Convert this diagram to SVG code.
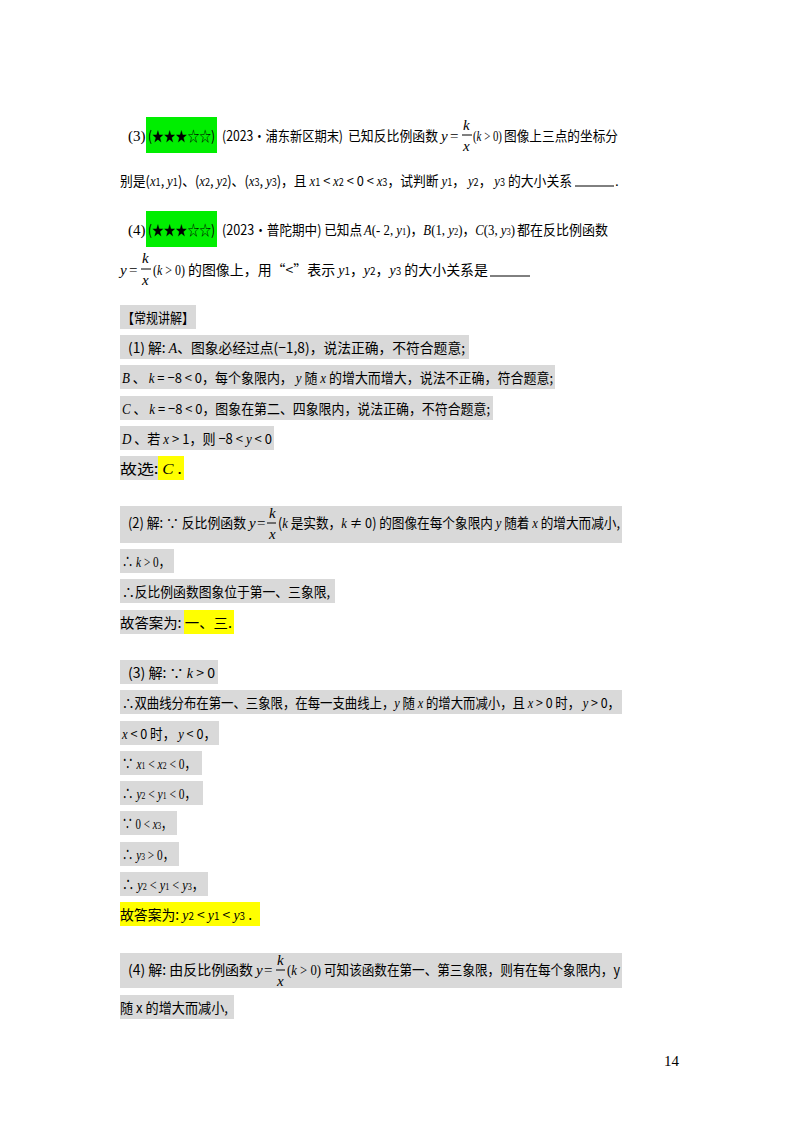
<svg xmlns="http://www.w3.org/2000/svg" width="800" height="1132" viewBox="0 0 800 1132">
<style>
text{font-family:"Liberation Serif","Noto Sans CJK SC",serif;font-size:15px;fill:#000}
.c{font-family:"Noto Sans CJK SC","Liberation Sans",sans-serif;font-size:14px}
.m{font-style:italic;font-family:"Liberation Serif",serif}
.g{fill:#d9d9d9}.y{fill:#ffff00}.gr{fill:#00ee00}
.s{font-size:10px}
</style>
<rect width="800" height="1132" fill="#fff"/>
<g id="q3">
<rect class="gr" x="146" y="117" width="71" height="36"/>
<text x="128" y="141">(3)</text>
<text x="148" y="141" class="c" textLength="67" lengthAdjust="spacingAndGlyphs">(★★★☆☆)</text>
<text x="222" y="141" class="c" textLength="121" lengthAdjust="spacingAndGlyphs">(2023•浦东新区期末)</text>
<text x="348" y="141" class="c" textLength="90" lengthAdjust="spacingAndGlyphs">已知反比例函数</text>
<text x="441" y="141" class="m">y</text><text x="450" y="141">=</text>
<text x="463" y="130" class="m">k</text><line x1="462" y1="135" x2="472" y2="135" stroke="#000"/><text x="463" y="151" class="m">x</text>
<text x="473" y="141" textLength="29" lengthAdjust="spacingAndGlyphs">(<tspan class="m">k</tspan> &gt; 0)</text>
<text x="504" y="141" class="c" textLength="114" lengthAdjust="spacingAndGlyphs">图像上三点的坐标分</text>
<text x="120" y="186" class="c" textLength="452" lengthAdjust="spacingAndGlyphs">别是(<tspan class="m">x</tspan><tspan class="s">1</tspan>, <tspan class="m">y</tspan><tspan class="s">1</tspan>)、(<tspan class="m">x</tspan><tspan class="s">2</tspan>, <tspan class="m">y</tspan><tspan class="s">2</tspan>)、(<tspan class="m">x</tspan><tspan class="s">3</tspan>, <tspan class="m">y</tspan><tspan class="s">3</tspan>)，且 <tspan class="m">x</tspan><tspan class="s">1</tspan> &lt; <tspan class="m">x</tspan><tspan class="s">2</tspan> &lt; 0 &lt; <tspan class="m">x</tspan><tspan class="s">3</tspan>，试判断 <tspan class="m">y</tspan><tspan class="s">1</tspan>， <tspan class="m">y</tspan><tspan class="s">2</tspan>， <tspan class="m">y</tspan><tspan class="s">3</tspan> 的大小关系</text>
<line x1="575" y1="186" x2="614" y2="186" stroke="#000"/><text x="615" y="186">.</text>
</g>
<g id="q4">
<rect class="gr" x="146" y="211" width="71" height="36"/>
<text x="128" y="235">(4)</text>
<text x="148" y="235" class="c" textLength="67" lengthAdjust="spacingAndGlyphs">(★★★☆☆)</text>
<text x="222" y="235" class="c" textLength="140" lengthAdjust="spacingAndGlyphs">(2023•普陀期中) 已知点</text>
<text x="364" y="235" textLength="151" lengthAdjust="spacingAndGlyphs"><tspan class="m">A</tspan>(- 2, <tspan class="m">y</tspan><tspan class="s">1</tspan>)，<tspan class="m">B</tspan>(1, <tspan class="m">y</tspan><tspan class="s">2</tspan>)，<tspan class="m">C</tspan>(3, <tspan class="m">y</tspan><tspan class="s">3</tspan>)</text>
<text x="517" y="235" class="c" textLength="91" lengthAdjust="spacingAndGlyphs">都在反比例函数</text>
<text x="120" y="275" class="m">y</text><text x="129" y="275">=</text>
<text x="142" y="263" class="m">k</text><line x1="141" y1="269" x2="151" y2="269" stroke="#000"/><text x="142" y="285" class="m">x</text>
<text x="153" y="275" textLength="32" lengthAdjust="spacingAndGlyphs">(<tspan class="m">k</tspan> &gt; 0)</text>
<text x="188" y="275" class="c" textLength="300" lengthAdjust="spacingAndGlyphs">的图像上，用“&lt;”表示 <tspan class="m">y</tspan><tspan class="s">1</tspan>，<tspan class="m">y</tspan><tspan class="s">2</tspan>，<tspan class="m">y</tspan><tspan class="s">3</tspan> 的大小关系是</text>
<line x1="490" y1="276" x2="530" y2="276" stroke="#000"/>
</g>
<g id="sol1">
<rect class="g" x="120" y="305" width="76" height="24"/>
<text x="122" y="323" class="c" textLength="72" lengthAdjust="spacingAndGlyphs">【常规讲解】</text>
<rect class="g" x="120" y="335" width="349" height="24"/>
<text x="128" y="353" class="c" textLength="337" lengthAdjust="spacingAndGlyphs">(1) 解: <tspan class="m">A</tspan>、图象必经过点(−1,8)，说法正确，不符合题意;</text>
<rect class="g" x="120" y="365" width="435" height="24"/>
<text x="122" y="383" class="c" textLength="431" lengthAdjust="spacingAndGlyphs"><tspan class="m">B</tspan> 、 <tspan class="m">k</tspan> = −8 &lt; 0，每个象限内， <tspan class="m">y</tspan> 随 <tspan class="m">x</tspan> 的增大而增大，说法不正确，符合题意;</text>
<rect class="g" x="120" y="396" width="373" height="24"/>
<text x="122" y="414" class="c" textLength="368" lengthAdjust="spacingAndGlyphs"><tspan class="m">C</tspan> 、 <tspan class="m">k</tspan> = −8 &lt; 0，图象在第二、四象限内，说法正确，不符合题意;</text>
<rect class="g" x="120" y="426" width="154" height="24"/>
<text x="122" y="444" class="c" textLength="150" lengthAdjust="spacingAndGlyphs"><tspan class="m">D</tspan> 、若 <tspan class="m">x</tspan> &gt; 1，则 −8 &lt; <tspan class="m">y</tspan> &lt; 0</text>
<rect class="g" x="120" y="456" width="38" height="24"/><rect class="y" x="158" y="456" width="26" height="24"/>
<text x="120" y="474" class="c" textLength="62" lengthAdjust="spacingAndGlyphs">故选: <tspan class="m">C</tspan> .</text>
</g>
<g id="sol2">
<rect class="g" x="120" y="506" width="502" height="37"/>
<text x="128" y="528" class="c" textLength="118" lengthAdjust="spacingAndGlyphs">(2) 解: ∵ 反比例函数</text>
<text x="249" y="528" class="m">y</text><text x="257" y="528">=</text>
<text x="269" y="518" class="m">k</text><line x1="267" y1="523" x2="276" y2="523" stroke="#000"/><text x="269" y="539" class="m">x</text>
<text x="278" y="528" class="c" textLength="342" lengthAdjust="spacingAndGlyphs">(<tspan class="m">k</tspan> 是实数，<tspan class="m">k</tspan> ≠ 0) 的图像在每个象限内 <tspan class="m">y</tspan> 随着 <tspan class="m">x</tspan> 的增大而减小,</text>
<rect class="g" x="120" y="549" width="54" height="24"/>
<text x="122" y="567" textLength="48" lengthAdjust="spacingAndGlyphs">∴ <tspan class="m">k</tspan> &gt; 0，</text>
<rect class="g" x="120" y="579" width="215" height="24"/>
<text x="122" y="597" class="c" textLength="208" lengthAdjust="spacingAndGlyphs">∴反比例函数图象位于第一、三象限,</text>
<rect class="g" x="120" y="610" width="64" height="24"/><rect class="y" x="184" y="610" width="50" height="24"/>
<text x="120" y="628" class="c" textLength="112" lengthAdjust="spacingAndGlyphs">故答案为: 一、三.</text>
</g>
<g id="sol3">
<rect class="g" x="120" y="660" width="98" height="24"/>
<text x="128" y="678" class="c" textLength="87" lengthAdjust="spacingAndGlyphs">(3) 解: ∵ <tspan class="m">k</tspan> &gt; 0</text>
<rect class="g" x="120" y="690" width="502" height="24"/>
<text x="122" y="708" class="c" textLength="498" lengthAdjust="spacingAndGlyphs">∴双曲线分布在第一、三象限，在每一支曲线上，<tspan class="m">y</tspan> 随 <tspan class="m">x</tspan> 的增大而减小，且 <tspan class="m">x</tspan> &gt; 0 时， <tspan class="m">y</tspan> &gt; 0，</text>
<rect class="g" x="120" y="721" width="99" height="24"/>
<text x="122" y="739" class="c" textLength="94" lengthAdjust="spacingAndGlyphs"><tspan class="m">x</tspan> &lt; 0 时， <tspan class="m">y</tspan> &lt; 0，</text>
<rect class="g" x="120" y="751" width="82" height="24"/>
<text x="122" y="769" textLength="74" lengthAdjust="spacingAndGlyphs">∵ <tspan class="m">x</tspan><tspan class="s">1</tspan> &lt; <tspan class="m">x</tspan><tspan class="s">2</tspan> &lt; 0，</text>
<rect class="g" x="120" y="781" width="83" height="24"/>
<text x="122" y="799" textLength="74" lengthAdjust="spacingAndGlyphs">∴ <tspan class="m">y</tspan><tspan class="s">2</tspan> &lt; <tspan class="m">y</tspan><tspan class="s">1</tspan> &lt; 0，</text>
<rect class="g" x="120" y="811" width="57" height="24"/>
<text x="122" y="829" textLength="50" lengthAdjust="spacingAndGlyphs">∵ 0 &lt; <tspan class="m">x</tspan><tspan class="s">3</tspan>，</text>
<rect class="g" x="120" y="842" width="59" height="24"/>
<text x="122" y="860" textLength="52" lengthAdjust="spacingAndGlyphs">∴ <tspan class="m">y</tspan><tspan class="s">3</tspan> &gt; 0，</text>
<rect class="g" x="120" y="872" width="88" height="24"/>
<text x="122" y="890" textLength="82" lengthAdjust="spacingAndGlyphs">∴ <tspan class="m">y</tspan><tspan class="s">2</tspan> &lt; <tspan class="m">y</tspan><tspan class="s">1</tspan> &lt; <tspan class="m">y</tspan><tspan class="s">3</tspan>，</text>
<rect class="y" x="120" y="902" width="140" height="24"/>
<text x="120" y="920" class="c" textLength="132" lengthAdjust="spacingAndGlyphs">故答案为: <tspan class="m">y</tspan><tspan class="s">2</tspan> &lt; <tspan class="m">y</tspan><tspan class="s">1</tspan> &lt; <tspan class="m">y</tspan><tspan class="s">3</tspan> .</text>
</g>
<g id="sol4">
<rect class="g" x="120" y="953" width="502" height="35"/>
<text x="128" y="975" class="c" textLength="125" lengthAdjust="spacingAndGlyphs">(4) 解: 由反比例函数</text>
<text x="256" y="975" class="m">y</text><text x="264" y="975">=</text>
<text x="277" y="965" class="m">k</text><line x1="276" y1="970" x2="285" y2="970" stroke="#000"/><text x="277" y="986" class="m">x</text>
<text x="287" y="975" textLength="34" lengthAdjust="spacingAndGlyphs">(<tspan class="m">k</tspan> &gt; 0)</text>
<text x="324" y="975" class="c" textLength="296" lengthAdjust="spacingAndGlyphs">可知该函数在第一、第三象限，则有在每个象限内，y</text>
<rect class="g" x="120" y="995" width="114" height="24"/>
<text x="120" y="1013" class="c" textLength="108" lengthAdjust="spacingAndGlyphs">随 x 的增大而减小,</text>
</g>
<text x="664" y="1066" font-size="13">14</text>
</svg>
